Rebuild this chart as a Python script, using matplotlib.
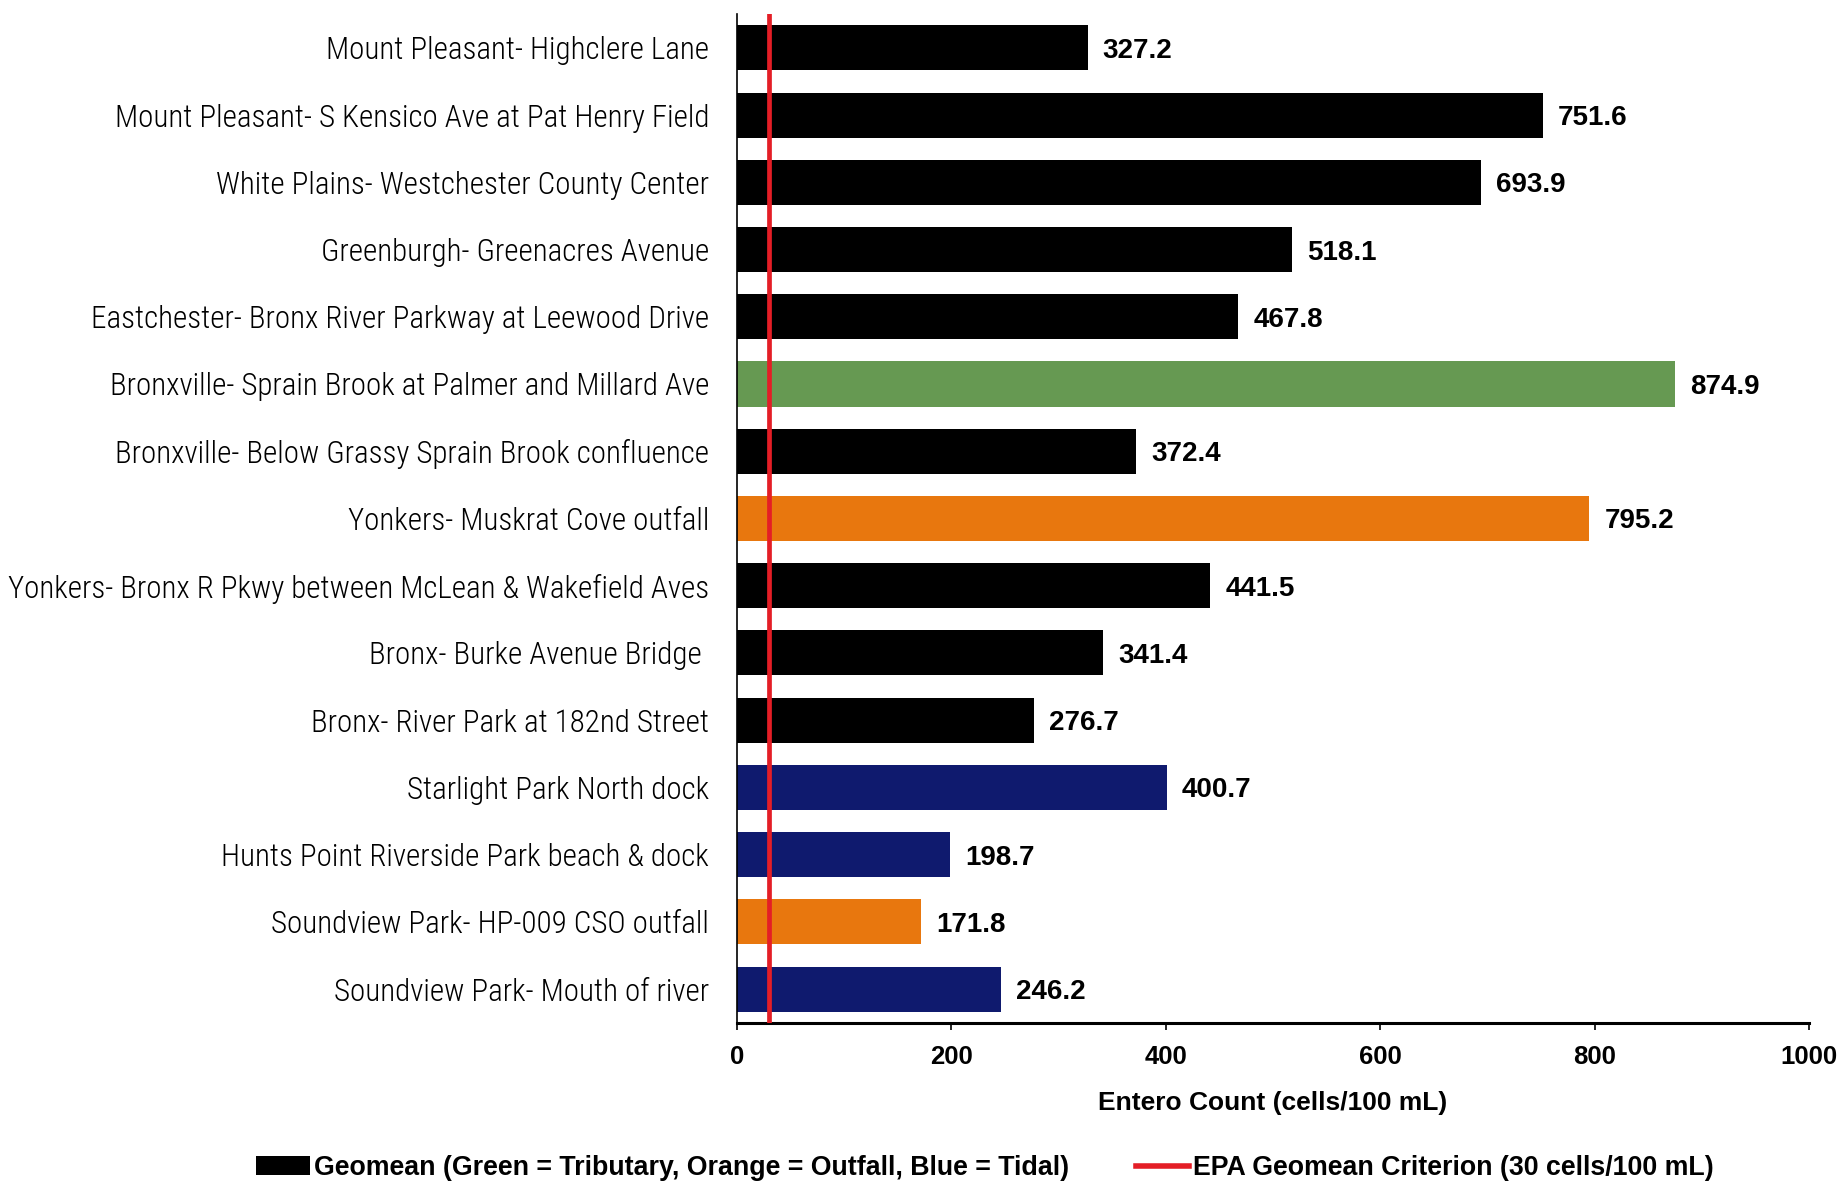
import matplotlib
matplotlib.use('Agg')
import os
import matplotlib.pyplot as plt
from matplotlib import font_manager
from matplotlib.patches import Patch
from matplotlib.lines import Line2D

sites = [
    'Mount Pleasant- Highclere Lane',
    'Mount Pleasant- S Kensico Ave at Pat Henry Field',
    'White Plains- Westchester County Center',
    'Greenburgh- Greenacres Avenue',
    'Eastchester- Bronx River Parkway at Leewood Drive',
    'Bronxville- Sprain Brook at Palmer and Millard Ave',
    'Bronxville- Below Grassy Sprain Brook confluence',
    'Yonkers- Muskrat Cove outfall',
    'Yonkers- Bronx R Pkwy between McLean & Wakefield Aves',
    'Bronx- Burke Avenue Bridge ',
    'Bronx- River Park at 182nd Street',
    'Starlight Park North dock',
    'Hunts Point Riverside Park beach & dock',
    'Soundview Park- HP-009 CSO outfall',
    'Soundview Park- Mouth of river',
]
geomean = [327.2, 751.6, 693.9, 518.1, 467.8, 874.9, 372.4, 795.2,
           441.5, 341.4, 276.7, 400.7, 198.7, 171.8, 246.2]
site_type = ['river', 'river', 'river', 'river', 'river', 'tributary', 'river',
             'outfall', 'river', 'river', 'river', 'tidal', 'tidal', 'outfall', 'tidal']
criterion = 30
xticks = [0, 200, 400, 600, 800, 1000]

type_colors = {'river': '#000000', 'tributary': '#669952',
               'outfall': '#e8770e', 'tidal': '#0f1a6e'}
red = '#e41e26'

plt.rcParams['font.family'] = ['Liberation Sans', 'DejaVu Sans']


def find_narrow():
    # look for an Arial Narrow-like face among the installed fonts
    files = [f.fname for f in font_manager.fontManager.ttflist]
    prefs = ['LiberationSansNarrow-Regular', 'RobotoCondensed-Light',
             'RobotoCondensed-Regular', 'Roboto_Condensed-Regular',
             'DejaVuSansCondensed.ttf', 'OpenSans_Condensed-Regular',
             'NotoSans-CondensedRegular']
    for p in prefs:
        for fn in files:
            if p in os.path.basename(fn):
                return fn
    return None


narrow_file = find_narrow()
if narrow_file:
    label_font = font_manager.FontProperties(fname=narrow_file, size=22.3)
else:
    label_font = font_manager.FontProperties(family='Liberation Sans', size=19)

fig = plt.figure(figsize=(18.41, 11.81), dpi=100)
ax = fig.add_axes([0.4003, 0.134, 0.5823, 0.854])

y = list(range(len(sites)))
colors = [type_colors[t] for t in site_type]
ax.barh(y, geomean, height=0.67, color=colors)
ax.axvline(criterion, color=red, lw=3.4, zorder=3)

for yi, v in zip(y, geomean):
    ax.text(v + 14, yi, f'{v:.1f}', va='center_baseline', ha='left',
            fontsize=20, fontweight='bold')

ax.set_ylim(len(sites) - 0.5, -0.5)
ax.set_xlim(0, 1000)
ax.set_yticks(y)
ax.set_yticklabels(sites, fontproperties=label_font)
ax.tick_params(axis='y', length=0, pad=20)
ax.set_xticks(xticks)
ax.set_xticklabels([str(t) for t in xticks], fontsize=18.5, fontweight='bold')
ax.tick_params(axis='x', direction='out', length=5, width=1.2, pad=11)
ax.set_xlabel('Entero Count (cells/100 mL)', fontsize=19, fontweight='bold', labelpad=16)

ax.spines['top'].set_visible(False)
ax.spines['right'].set_visible(False)
ax.spines['left'].set_linewidth(1.2)
ax.spines['bottom'].set_linewidth(2.2)

handles = [Patch(facecolor='#000000', edgecolor='none'),
           Line2D([0], [0], color=red, lw=4)]
labels = ['Geomean (Green = Tributary, Orange = Outfall, Blue = Tidal)',
          'EPA Geomean Criterion (30 cells/100 mL)']
fig.legend(handles, labels, loc='center left', bbox_to_anchor=(256 / 1841, 1 - 1168 / 1181),
           ncol=2, frameon=False, borderpad=0, borderaxespad=0,
           handlelength=2.0, handletextpad=0.15, columnspacing=2.5,
           prop={'size': 19.3, 'weight': 'bold'})

fig.savefig('out.png', dpi=100)
